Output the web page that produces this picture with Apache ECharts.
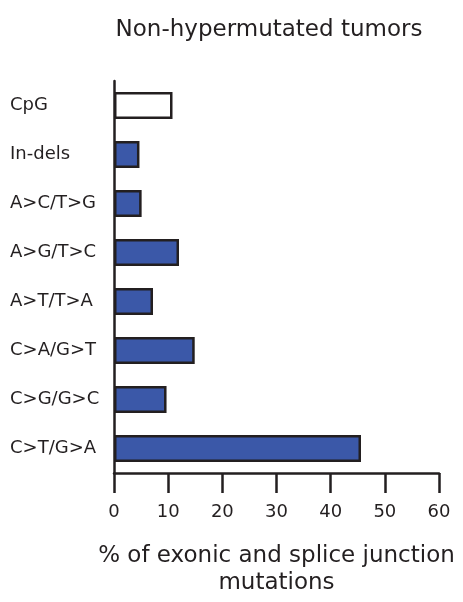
<!DOCTYPE html>
<html>
<head>
<meta charset="utf-8">
<script src="https://cdn.jsdelivr.net/npm/echarts@6/dist/echarts.min.js"></script>
<style>
  html, body { margin: 0; padding: 0; background: #fff; }
  #chart { width: 463px; height: 602px; }
</style>
</head>
<body>
<div id="chart"></div>
<script>
// Mutation classes, listed top to bottom
const categories = ['CpG', 'In-dels', 'A>C/T>G', 'A>G/T>C', 'A>T/T>A', 'C>A/G>T', 'C>G/G>C', 'C>T/G>A'];
// Share of exonic and splice-junction mutations (%)
const percentages = [10.8, 4.7, 5.1, 12.0, 7.2, 14.9, 9.7, 45.6];
const xTicks = [0, 10, 20, 30, 40, 50, 60];

const FONT = '"DejaVu Sans", Arial, Helvetica, sans-serif';
const INK = '#231f20';
const BLUE = '#3b58a8';

const chart = echarts.init(document.getElementById('chart'), null, { renderer: 'canvas' });

const barData = percentages.map((v, i) => ({
  value: v,
  itemStyle: { color: categories[i] === 'CpG' ? '#ffffff' : BLUE }
}));

chart.setOption({
  animation: false,
  backgroundColor: '#ffffff',
  title: {
    text: 'Non-hypermutated tumors',
    left: 264,
    top: 14,
    textAlign: 'center',
    textStyle: { fontFamily: FONT, fontSize: 23, fontWeight: 'normal', color: INK }
  },
  grid: { left: 114, right: 24, top: 81, bottom: 125, containLabel: false },
  xAxis: {
    type: 'value',
    min: xTicks[0],
    max: xTicks[xTicks.length - 1],
    interval: 10,
    name: '% of exonic and splice junction\nmutations',
    nameLocation: 'middle',
    nameGap: 70,
    nameTextStyle: { fontFamily: FONT, fontSize: 23, color: INK, lineHeight: 27 },
    axisLine: { show: true, lineStyle: { color: INK, width: 2.5 } },
    axisTick: { show: true, length: 20, lineStyle: { color: INK, width: 2.5 } },
    axisLabel: { fontFamily: FONT, fontSize: 18, color: INK, margin: 30 },
    splitLine: { show: false }
  },
  yAxis: {
    type: 'category',
    data: categories,
    inverse: true,
    axisLine: { show: true, lineStyle: { color: INK, width: 2.5 } },
    axisTick: { show: false },
    axisLabel: { fontFamily: FONT, fontSize: 18, color: INK, align: 'left', margin: 104 }
  },
  series: [{
    type: 'bar',
    data: barData,
    barWidth: 27,
    itemStyle: { borderColor: INK, borderWidth: 2.5 }
  }]
});
</script>
</body>
</html>
